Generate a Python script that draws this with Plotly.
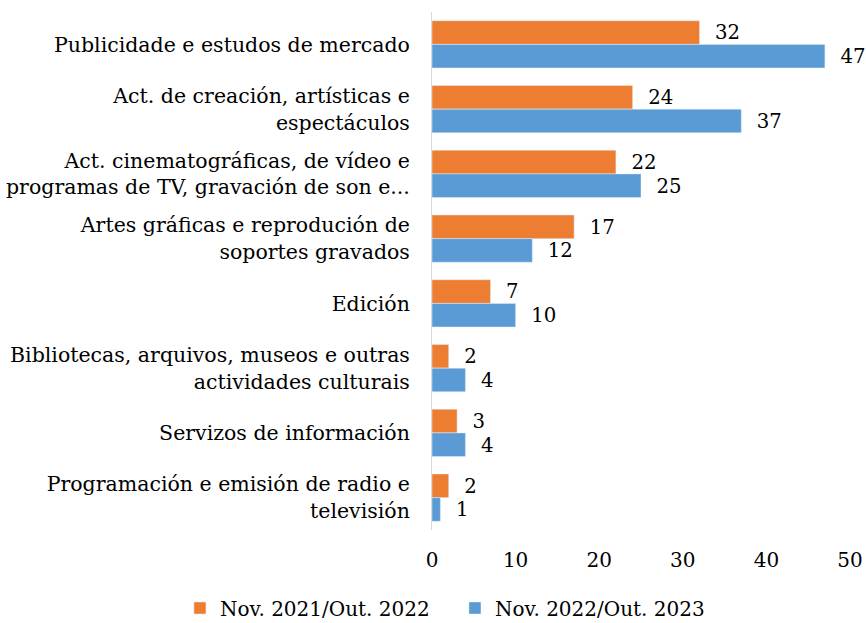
import plotly.graph_objects as go


categories = [
    "Publicidade e estudos de mercado",
    "Act. de creación, artísticas e<br>espectáculos",
    "Act. cinematográficas, de vídeo e<br>programas de TV, gravación de son e...",
    "Artes gráficas e reprodución de<br>soportes gravados",
    "Edición",
    "Bibliotecas, arquivos, museos e outras<br>actividades culturais",
    "Servizos de información",
    "Programación e emisión de radio e<br>televisión",
]

nov21_out22 = [32, 24, 22, 17, 7, 2, 3, 2]
nov22_out23 = [47, 37, 25, 12, 10, 4, 4, 1]

x_ticks = [0, 10, 20, 30, 40, 50]

font_name = "DejaVu Serif"


fig = go.Figure()

fig.add_trace(
    go.Bar(
        y=categories,
        x=nov21_out22,
        orientation="h",
        name="Nov. 2021/Out. 2022",
        marker_color="#ED7D31",
        texttemplate="\u00a0\u00a0%{x}",
        textposition="outside",
        cliponaxis=False,
    )
)

fig.add_trace(
    go.Bar(
        y=categories,
        x=nov22_out23,
        orientation="h",
        name="Nov. 2022/Out. 2023",
        marker_color="#5B9BD5",
        texttemplate="\u00a0\u00a0%{x}",
        textposition="outside",
        cliponaxis=False,
    )
)

fig.update_traces(
    outsidetextfont=dict(family=font_name, size=20, color="#000000"),
    textangle=0,
)

fig.update_layout(
    width=866,
    height=623,
    barmode="group",
    bargap=0.27,
    bargroupgap=0,
    plot_bgcolor="white",
    paper_bgcolor="white",
    font=dict(family=font_name, size=20, color="#000000"),
    margin=dict(l=432, r=16, t=12, b=93, autoexpand=False),
    showlegend=True,
    legend=dict(
        orientation="h",
        x=-0.603,
        xanchor="left",
        y=-0.1506,
        yanchor="middle",
        font=dict(size=20),
        itemwidth=30,
        entrywidth=230,
        traceorder="normal",
    ),
    xaxis=dict(
        range=[0, 50],
        tickvals=x_ticks,
        showgrid=False,
        zeroline=False,
        showline=False,
        automargin=False,
        ticklabelstandoff=16,
    ),
    yaxis=dict(
        autorange="reversed",
        showgrid=False,
        showline=True,
        linecolor="#D9D9D9",
        linewidth=1,
        ticks="",
        ticklabelstandoff=17,
        tickfont=dict(size=20.5),
        automargin=False,
    ),
)

# drop the default page margin so the figure fills the window
fig.write_html(
    "out.html",
    config={"displayModeBar": False},
    post_script="document.body.style.margin = '0';",
)
